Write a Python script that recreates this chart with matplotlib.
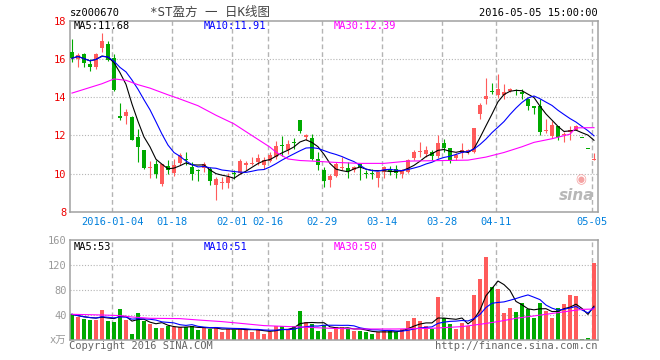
import matplotlib
matplotlib.use("Agg")
import matplotlib.pyplot as plt
import numpy as np
import pandas as pd

FONT = ["DejaVu Sans Mono", "Noto Sans CJK SC"]
plt.rcParams["font.family"] = FONT

# daily candles, 2015-12-23 .. 2016-05-05 (index 0..87)
opens = [16.38, 16.00, 16.26, 15.75, 15.56, 16.57, 16.79, 16.07, 13.00, 13.02,
         12.98, 11.92, 11.23, 10.28, 10.50, 9.47, 10.40, 10.04, 10.55, 10.73,
         10.35, 10.20, 10.30, 10.25, 9.38, 9.50, 9.50, 10.05, 10.05, 10.45,
         10.50, 10.58, 10.42, 10.68, 10.85, 11.50, 11.25, 11.63, 12.80, 11.90,
         11.85, 10.78, 10.18, 9.65, 9.88, 10.30, 10.27, 10.20, 10.48, 10.02,
         10.03, 9.75, 10.10, 10.26, 10.26, 9.95, 10.09, 10.82, 11.10, 11.00,
         11.15, 10.90, 11.58, 11.32, 10.80, 11.05, 11.10, 11.14, 13.10, 13.92,
         14.32, 14.10, 14.10, 14.32, 14.38, 14.25, 13.88, 13.56, 13.56, 12.21,
         11.98, 12.50, 12.04, 12.16, 12.30, 11.88, 11.28, 10.72]
highs = [17.03, 16.31, 16.30, 15.97, 16.32, 17.34, 16.95, 16.25, 13.67, 13.38,
         13.00, 12.34, 11.25, 10.63, 10.70, 10.52, 10.70, 10.75, 11.05, 11.12,
         10.60, 10.25, 10.62, 10.35, 9.80, 9.80, 10.05, 10.20, 10.75, 10.68,
         10.85, 11.02, 10.85, 11.12, 11.70, 11.95, 11.75, 11.85, 12.80, 12.05,
         12.08, 11.12, 10.35, 10.00, 10.58, 10.88, 10.60, 10.38, 10.52, 10.18,
         10.25, 10.10, 10.38, 10.38, 10.44, 10.22, 10.74, 11.23, 11.67, 11.45,
         11.22, 12.02, 11.80, 11.35, 11.05, 11.58, 11.28, 12.40, 13.70, 15.02,
         14.72, 15.19, 14.67, 14.49, 14.44, 14.44, 13.96, 13.56, 13.91, 12.86,
         12.74, 12.50, 12.18, 12.51, 12.56, 11.88, 11.28, 11.05]
lows = [15.86, 15.58, 15.57, 15.38, 15.45, 16.34, 15.88, 14.30, 12.79, 12.60,
        11.74, 10.60, 10.22, 9.77, 9.78, 9.35, 9.97, 9.85, 10.45, 10.45,
        9.64, 9.60, 10.10, 9.42, 8.60, 9.20, 9.25, 9.70, 10.00, 10.20,
        10.42, 10.45, 10.22, 10.60, 10.75, 10.90, 11.00, 11.30, 12.10, 11.75,
        10.70, 10.18, 9.30, 9.30, 9.82, 10.17, 9.75, 10.10, 9.65, 9.75,
        9.70, 9.30, 9.75, 9.90, 9.77, 9.75, 10.04, 10.70, 10.88, 10.88,
        10.70, 10.80, 11.10, 10.57, 10.70, 10.80, 11.02, 11.08, 12.85, 13.65,
        14.14, 13.96, 13.90, 14.28, 14.09, 13.88, 13.35, 13.09, 12.04, 12.12,
        11.86, 11.77, 11.63, 11.77, 12.26, 11.88, 11.28, 10.72]
closes = [16.03, 16.23, 15.78, 15.56, 16.26, 16.93, 15.93, 14.35, 12.93, 13.20,
          11.78, 11.40, 10.27, 10.33, 9.95, 10.48, 10.20, 10.45, 10.95, 10.70,
          9.97, 10.15, 10.50, 9.62, 9.73, 9.56, 9.84, 10.00, 10.66, 10.55,
          10.57, 10.82, 10.73, 10.97, 11.43, 11.45, 11.52, 11.60, 12.25, 12.00,
          10.75, 10.42, 9.60, 9.85, 10.52, 10.35, 10.14, 10.35, 10.33, 9.98,
          10.00, 10.08, 10.35, 10.10, 10.02, 10.17, 10.70, 11.14, 11.19, 11.23,
          10.92, 11.58, 11.36, 10.72, 10.97, 11.22, 11.22, 12.37, 13.60, 14.08,
          14.28, 14.44, 14.28, 14.44, 14.33, 14.18, 13.53, 13.42, 12.16, 12.30,
          12.56, 11.90, 12.09, 12.30, 12.50, 11.88, 11.28, 10.74]
# volume, x10k shares
volumes = [41.6, 37.3, 34.1, 32.5, 32.5, 48.5, 30.9, 29.3, 50.1, 32.5,
           10.7, 43.7, 31.5, 26.7, 19.7, 19.7, 22.9, 20.8, 21.3, 21.3,
           22.9, 17.1, 19.2, 18.1, 21.3, 13.9, 18.1, 17.1, 19.2, 17.1,
           13.9, 16.0, 10.7, 13.9, 22.4, 23.5, 17.1, 23.5, 46.9, 29.3,
           25.6, 14.9, 24.0, 13.9, 21.9, 21.9, 18.1, 14.9, 14.9, 12.8,
           10.7, 13.9, 14.9, 14.9, 13.9, 18.1, 30.9, 35.7, 31.5, 22.9,
           18.1, 69.9, 35.2, 26.7, 18.1, 28.3, 22.9, 73.1, 98.7, 133.9,
           85.9, 82.7, 44.3, 52.3, 45.9, 59.2, 50.1, 36.3, 60.3, 46.9,
           36.3, 51.2, 58.1, 72.5, 70.9, 2.1, 3.7, 123.7]

ma30_idx = [0, 5, 7, 9, 11, 13, 16, 18, 21, 24, 27, 29, 33, 34, 36, 38, 40, 44,
            48, 52, 56, 66, 69, 72, 75, 77, 80, 83, 84, 87]
ma30_val = [14.21, 14.70, 14.95, 14.88, 14.65, 14.47, 14.12, 13.90, 13.55, 13.05,
            12.60, 12.19, 11.38, 11.12, 10.76, 10.68, 10.65, 10.58, 10.53, 10.53,
            10.65, 10.70, 10.86, 11.10, 11.40, 11.63, 11.82, 12.06, 12.39, 12.40]
vma30_idx = [0, 5, 8, 10, 13, 18, 21, 25, 28, 32, 38, 43, 48, 54, 60, 65, 68,
             71, 74, 79, 85, 87]
vma30_val = [41.6, 40.5, 39.5, 37.3, 35.2, 34.7, 32.5, 29.9, 27.2, 23.5, 21.3,
             19.2, 18.1, 18.1, 19.2, 21.9, 25.6, 29.9, 35.2, 41.6, 49.5, 50.0]

date_labels = ["2016-01-04", "01-18", "02-01", "02-16", "02-29", "03-14",
               "03-28", "04-11", "05-05"]
date_idx = [7, 17, 27, 33, 42, 52, 62, 71, 87]

RED, GREEN = "#ff5b5b", "#00aa00"
GRID = "#b4b4b4"
FRAME = "#a0a0a0"
W, H = 660, 360

o, h, l, c = map(np.array, (opens, highs, lows, closes))
v = np.array(volumes)
x = np.arange(len(c))
prev = np.r_[c[0], c[:-1]]
up = (c > o) | ((c == o) & (c >= prev))
cols = np.where(up, RED, GREEN)

ma5 = pd.Series(c).rolling(5, min_periods=1).mean()
ma10 = pd.Series(c).rolling(10, min_periods=1).mean()
vma5 = pd.Series(v).rolling(5, min_periods=1).mean()
vma10 = pd.Series(v).rolling(10, min_periods=1).mean()

fig = plt.figure(figsize=(W / 100, H / 100), dpi=100)
fig.patch.set_facecolor("white")


def box(x0, y0, x1, y1):
    return [x0 / W, 1 - y1 / H, (x1 - x0) / W, (y1 - y0) / H]


ax = fig.add_axes(box(70, 20.7, 597.7, 211.7))
axv = fig.add_axes(box(70, 240.3, 597.7, 340.3))

xlim = (-0.33, 87.62)
vlines_x = np.array(date_idx) - 0.3

for a in (ax, axv):
    a.set_xlim(*xlim)
    for s in a.spines.values():
        s.set_color(FRAME)
        s.set_linewidth(1.1)
    for xv in vlines_x:
        a.axvline(xv, color=GRID, lw=1.0, ls=(0, (3.4, 2.2)), zorder=0)
    a.tick_params(length=0)

# price panel
ax.set_ylim(8, 18)
for yv in (10, 12, 14, 16):
    ax.axhline(yv, color=GRID, lw=0.8, ls=(0, (1, 1.6)), zorder=0)
ax.vlines(x, l, h, colors=cols, lw=0.8, zorder=2)
body = np.maximum(np.abs(c - o), 0.05)
ax.bar(x, body, bottom=np.minimum(o, c), width=0.82, color=cols,
       linewidth=0, zorder=3)
ax.plot(x, ma5, color="black", lw=0.8, zorder=4)
ax.plot(x, ma10, color="#0000ff", lw=0.8, zorder=4)
ax.plot(ma30_idx, ma30_val, color="#ff00ff", lw=0.8, zorder=4)
ax.set_yticks([8, 10, 12, 14, 16, 18])
ax.set_yticklabels(["8", "10", "12", "14", "16", "18"])
ax.tick_params(axis="y", colors="#ee0000", labelsize=7.5, pad=2.5)
ax.set_xticks(vlines_x)
ax.set_xticklabels(date_labels)
ax.tick_params(axis="x", colors="#0080dd", labelsize=7.5, pad=4)
ax.text(0.993, 0.085, "sina", transform=ax.transAxes, ha="right", va="center",
        fontsize=11, fontweight="bold", style="italic", color="#b8b8b8",
        family="DejaVu Sans", zorder=1)
ax.text(0.967, 0.165, "◉", transform=ax.transAxes, ha="center", va="center",
        fontsize=9, color="#f5a3a3", family="DejaVu Sans", zorder=1)

# volume panel
axv.set_ylim(0, 160)
for yv in (40, 80, 120):
    axv.axhline(yv, color=GRID, lw=0.8, ls=(0, (1, 1.6)), zorder=0)
axv.bar(x, v, width=0.82, color=cols, linewidth=0, zorder=2)
axv.plot(x, vma5, color="black", lw=0.8, zorder=3)
axv.plot(x, vma10, color="#0000ff", lw=0.8, zorder=3)
axv.plot(vma30_idx, vma30_val, color="#ff00ff", lw=0.8, zorder=3)
axv.set_yticks([0, 40, 80, 120, 160])
axv.set_yticklabels(["x万", "40", "80", "120", "160"])
axv.tick_params(axis="y", colors="#999999", labelsize=7.5, pad=2.5)
axv.set_xticks([])


def ftext(px, py, s, size=7.5, **kw):
    fig.text(px / W, 1 - py / H, s, va="center", fontsize=size, **kw)


ftext(70, 13, "sz000670", color="black")
ftext(210, 12, "*ST盈方 一 日K线图", size=9, ha="center", color="#444444")
ftext(597.7, 12.5, "2016-05-05 15:00:00", ha="right", color="black")
ftext(74, 26, "MA5:11.68", color="black")
ftext(204, 26, "MA10:11.91", color="#0000ff")
ftext(334, 26, "MA30:12.39", color="#ff00ff")
ftext(74, 247, "MA5:53", color="black")
ftext(204, 247, "MA10:51", color="#0000ff")
ftext(334, 247, "MA30:50", color="#ff00ff")
ftext(69, 346, "Copyright 2016 SINA.COM", color="#666666")
ftext(597.7, 346, "http://finance.sina.com.cn", ha="right", color="#666666")

fig.savefig("out.png", dpi=100)
